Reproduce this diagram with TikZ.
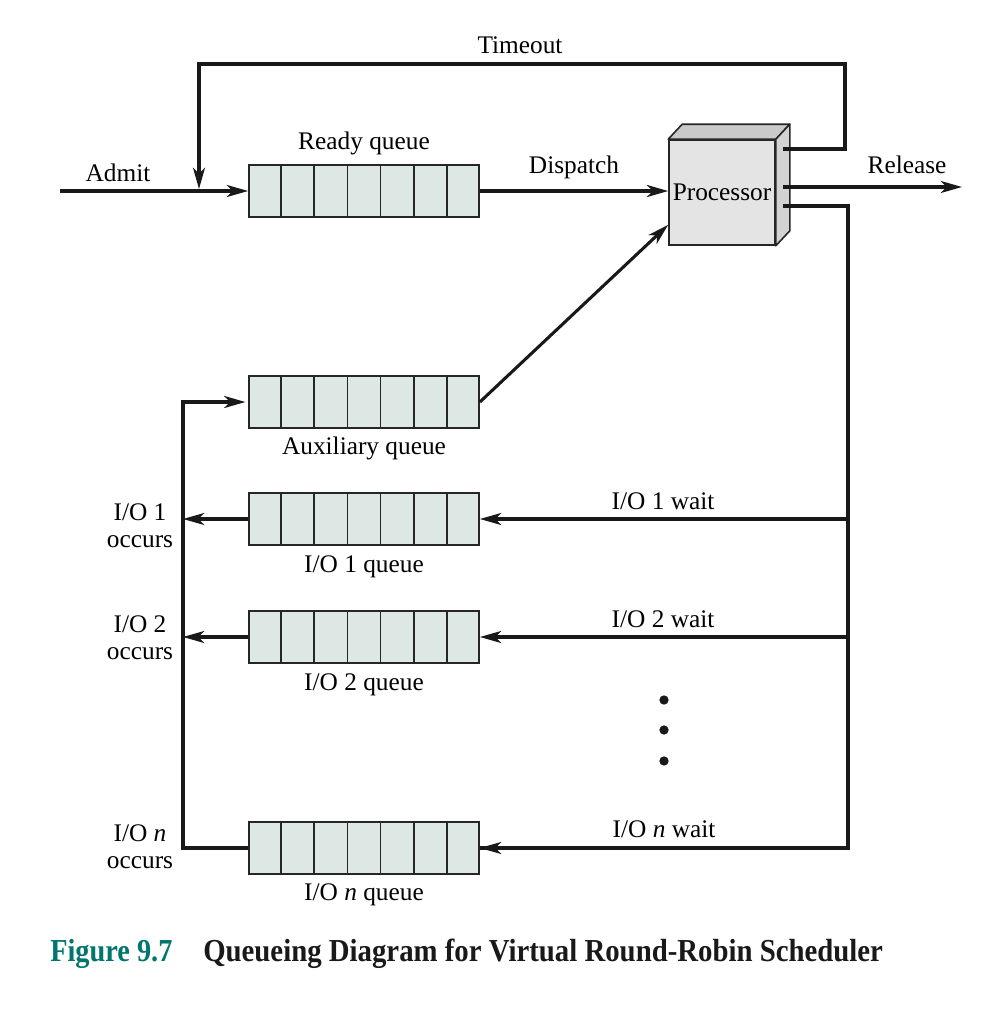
\documentclass[tikz,border=0pt]{standalone}
\usepackage{fontspec}
\setmainfont{Liberation Serif}
\usetikzlibrary{arrows.meta,calc}
\definecolor{qfill}{HTML}{DDE8E5}
\definecolor{figteal}{HTML}{00766C}
\definecolor{pfront}{HTML}{E4E4E4}
\definecolor{ptop}{HTML}{C9C9C9}
\definecolor{pside}{HTML}{D2D2D2}
\begin{document}
\begin{tikzpicture}[x=0.75pt,y=-0.75pt,
  conn/.style={draw=black!90, line width=2.3pt},
  arr/.style={draw=black!90, line width=2.3pt, -{Stealth[length=16pt,width=9pt,inset=4.5pt]}},
  queue/.style={draw=black!85, line width=1.3pt, fill=qfill, minimum width=172.5pt, minimum height=39pt, inner sep=0pt},
  lbl/.style={font=\fontsize{19}{20.5}\selectfont, inner sep=0pt, align=center},
  dotmark/.style={circle, fill=black!90, inner sep=0pt, minimum size=7pt},
  captionfont/.style={font=\fontsize{24}{26}\selectfont\bfseries, inner sep=0pt, anchor=base west},
]
\useasboundingbox (0,0) rectangle (1000,1010);

% queues
\node[queue] (rq) at (364,191) {};
\node[queue] (aq) at (364,402) {};
\node[queue] (q1) at (364,519) {};
\node[queue] (q2) at (364,637) {};
\node[queue] (qn) at (364,848) {};
\foreach \q in {rq,aq,q1,q2,qn}
  \foreach \i in {1,...,6}
    \draw[line width=1.3pt, black!85] ($(\q.north west)!\i/7!(\q.north east)$) -- ($(\q.south west)!\i/7!(\q.south east)$);

% processor
\node[draw=black!85, line width=1.2pt, fill=pfront, minimum width=79.5pt, minimum height=78.75pt, inner sep=0pt, font=\fontsize{19}{20}\selectfont] (p) at (722,192.5) {Processor};
\draw[black!85, line width=1.2pt, fill=ptop, line join=round] (p.north west) -- ([shift={(14,-15)}]p.north west) -- ([shift={(14,-15)}]p.north east) -- (p.north east) -- cycle;
\draw[black!85, line width=1.2pt, fill=pside, line join=round] (p.north east) -- ([shift={(14,-15)}]p.north east) -- ([shift={(14,-15)}]p.south east) -- (p.south east) -- cycle;
\coordinate (port1) at (783,149);
\coordinate (port2) at (783,187);
\coordinate (port3) at (783,206);

% helper coordinates
\coordinate (admitstart) at (60,191);
\coordinate (tr) at (845,64);
\coordinate (tl) at (199,64);
\coordinate (rel) at (962,187);
\coordinate (rb) at (848,848);
\coordinate (lb) at (183,848);
\coordinate (pin) at ($(p.south west)+(0,-21)$);

% connectors
\draw[arr] (admitstart) -- (rq.west);
\draw[arr, shorten >=1.5pt] (port1) -| (tr) -- (tl) -- (tl |- admitstart);
\draw[arr] (rq.east) -- (rq.east -| p.west);
\draw[arr] (port2) -- (rel);
\draw[conn] (port3) -| (rb) -- (rb -| qn.east);
\draw[arr] (aq.east) -- (pin);
\draw[arr] (q1.east -| rb) -- (q1.east);
\draw[arr] (q2.east -| rb) -- (q2.east);
\draw[arr] (qn.east -| rb) -- (qn.east);
\draw[arr, shorten >=2pt] (qn.west) -- (lb) |- (aq.west);
\draw[arr] (q1.west) -- (q1.west -| lb);
\draw[arr] (q2.west) -- (q2.west -| lb);

% dots
\node[dotmark] (d1) at (664,700) {};
\node[dotmark] (d2) at (664,730) {};
\node[dotmark] (d3) at (664,761) {};

% labels
\node[lbl] (ltimeout) at (520,45) {Timeout};
\node[lbl] (ladmit) at (118,173) {Admit};
\node[lbl] (lready) at (364,143) {Ready queue};
\node[lbl] (ldispatch) at (574,167) {Dispatch};
\node[lbl] (lrelease) at (907,165) {Release};
\node[lbl] (laux) at (364,448) {Auxiliary queue};
\node[lbl] (lw1) at (663,501) {I/O 1 wait};
\node[lbl] (lq1) at (364,567) {I/O 1 queue};
\node[lbl] (lo1) at (140,526) {I/O 1\\occurs};
\node[lbl] (lw2) at (663,619) {I/O 2 wait};
\node[lbl] (lq2) at (364,685) {I/O 2 queue};
\node[lbl] (lo2) at (140,638) {I/O 2\\occurs};
\node[lbl] (lwn) at (664,829) {I/O \textit{n} wait};
\node[lbl] (lqn) at (364,895) {I/O \textit{n} queue};
\node[lbl] (lon) at (140,847) {I/O \textit{n}\\occurs};

% caption
\node[captionfont, text=figteal] (capnum) at (50,961) {\scalebox{0.885}[1]{Figure 9.7}};
\node[captionfont, text=black!90] (captxt) at (203,961) {\scalebox{0.9}[1]{Queueing Diagram for Virtual Round-Robin Scheduler}};
\end{tikzpicture}
\end{document}
